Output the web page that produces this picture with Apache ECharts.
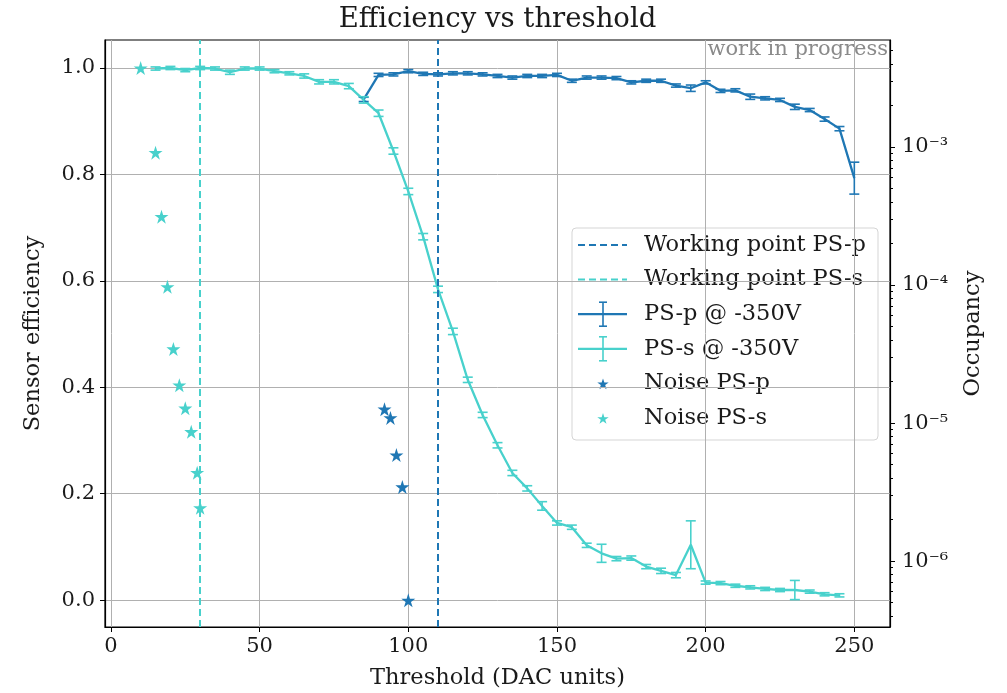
<!DOCTYPE html>
<html><head><meta charset="utf-8">
<script src="https://cdn.jsdelivr.net/npm/echarts@6/dist/echarts.min.js"></script>
<style>html,body{margin:0;padding:0;background:#fff}#c{width:1007px;height:693px}</style>
</head><body><div id="c"></div>
<script>
// ---------- data ----------
const thrPSp = [85,90,95,100,105,110,115,120,125,130,135,140,145,150,155,160,165,170,175,180,185,190,195,200,205,210,215,220,225,230,235,240,245,250];
const effPSp = [0.941,0.987,0.988,0.994,0.989,0.988,0.990,0.990,0.988,0.985,0.982,0.985,0.985,0.987,0.976,0.982,0.982,0.981,0.973,0.976,0.976,0.967,0.962,0.973,0.957,0.958,0.946,0.943,0.940,0.927,0.921,0.904,0.886,0.793];
const errPSp = [0.004,0.003,0.003,0.003,0.003,0.003,0.003,0.003,0.003,0.003,0.003,0.003,0.003,0.003,0.003,0.003,0.003,0.003,0.003,0.003,0.003,0.003,0.006,0.003,0.003,0.003,0.005,0.003,0.003,0.005,0.003,0.004,0.004,0.030];

const thrPSs = [15,20,25,30,35,40,45,50,55,60,65,70,75,80,85,90,95,100,105,110,115,120,125,130,135,140,145,150,155,160,165,170,175,180,185,190,195,200,205,210,215,220,225,230,235,240,245];
const effPSs = [0.999,1.000,0.996,1.000,0.999,0.992,0.999,0.999,0.994,0.990,0.985,0.974,0.974,0.966,0.940,0.915,0.844,0.768,0.683,0.584,0.505,0.414,0.348,0.291,0.239,0.210,0.177,0.145,0.137,0.103,0.088,0.078,0.079,0.063,0.055,0.047,0.104,0.033,0.032,0.027,0.024,0.021,0.019,0.019,0.016,0.011,0.009];
const errPSs = [0.003,0.003,0.003,0.003,0.003,0.004,0.003,0.003,0.003,0.003,0.004,0.004,0.004,0.005,0.006,0.006,0.006,0.006,0.006,0.006,0.006,0.005,0.005,0.005,0.005,0.005,0.008,0.004,0.004,0.004,0.017,0.004,0.004,0.004,0.005,0.005,0.045,0.003,0.003,0.003,0.003,0.003,0.003,0.018,0.003,0.003,0.003];

const noiseThrPSp = [92,94,96,98,100];
const noiseOccPSp = [1.26e-5,1.09e-5,5.86e-6,3.44e-6,5.2e-7];
const noiseThrPSs = [10,15,17,19,21,23,25,27,29,30];
const noiseOccPSs = [3.73e-3,9.1e-4,3.13e-4,9.7e-5,3.44e-5,1.88e-5,1.28e-5,8.65e-6,4.37e-6,2.43e-6];

const wpPSp = 110;
const wpPSs = 30;

const xTicks = [0,50,100,150,200,250];
const effTicks = [0,0.2,0.4,0.6,0.8,1.0];
const occTicks = [1e-6,1e-5,1e-4,1e-3];
const occMinorTicks = [4e-7,5e-7,6e-7,7e-7,8e-7,9e-7,
  2e-6,3e-6,4e-6,5e-6,6e-6,7e-6,8e-6,9e-6,
  2e-5,3e-5,4e-5,5e-5,6e-5,7e-5,8e-5,9e-5,
  2e-4,3e-4,4e-4,5e-4,6e-4,7e-4,8e-4,9e-4,
  2e-3,3e-3,4e-3,5e-3];

const xRange = [-2, 262];
const effRange = [-0.0505, 1.0526];
const occRange = [3.33e-7, 5.96e-3];

const legendNames = ['Working point PS-p','Working point PS-s','PS-p @ -350V','PS-s @ -350V','Noise PS-p','Noise PS-s'];

// ---------- style ----------
const C_P = '#1f77b4';
const C_S = '#48d1cc';
const FONT = 'DejaVu Serif';
const FS_TICK = 21;
const FS = 22.5;
const STAR = 'path://M0,-1L0.2245,-0.309L0.951,-0.309L0.363,0.118L0.588,0.809L0,0.382L-0.588,0.809L-0.363,0.118L-0.951,-0.309L-0.2245,-0.309Z';

const sup = {'-':'⁻','0':'⁰','1':'¹','2':'²','3':'³','4':'⁴','5':'⁵','6':'⁶','7':'⁷','8':'⁸','9':'⁹'};
function logLabel(v){
  const e = Math.round(Math.log10(v));
  return '10' + String(e).split('').map(c=>sup[c]).join('');
}

function errSeries(thr, eff, err, color){
  return {
    type:'custom', xAxisIndex:0, yAxisIndex:0, silent:true, z:4,
    data: thr.map((t,i)=>[t, eff[i]-err[i], eff[i]+err[i]]),
    encode:{x:0, y:[1,2]},
    renderItem(params, api){
      const x = api.value(0);
      const lo = api.coord([x, api.value(1)]);
      const hi = api.coord([x, api.value(2)]);
      const cw = 5;
      const st = {stroke:color, lineWidth:1.6};
      return {type:'group', children:[
        {type:'line', shape:{x1:lo[0],y1:lo[1],x2:hi[0],y2:hi[1]}, style:st},
        {type:'line', shape:{x1:lo[0]-cw,y1:lo[1],x2:lo[0]+cw,y2:lo[1]}, style:st},
        {type:'line', shape:{x1:hi[0]-cw,y1:hi[1],x2:hi[0]+cw,y2:hi[1]}, style:st}
      ]};
    }
  };
}

// ---------- legend (graphic) ----------
const LX = 572, LY = 228, LW = 306, LH = 212;
const rowY = i => 245 + i*34.6;
const hx1 = 578, hx2 = 627, hxc = 603, tx = 644;
function starPts(cx, cy, r){
  const pts=[];
  for(let k=0;k<10;k++){
    const a = -Math.PI/2 + k*Math.PI/5;
    const rr = k%2===0 ? r : r*0.382;
    pts.push([cx + rr*Math.cos(a), cy + rr*Math.sin(a)]);
  }
  return pts;
}
const legendChildren = [
  {type:'rect', shape:{x:LX,y:LY,width:LW,height:LH,r:4}, style:{fill:'rgba(255,255,255,0.8)', stroke:'#d5d5d5', lineWidth:1}},
  {type:'line', shape:{x1:hx1,y1:rowY(0),x2:hx2,y2:rowY(0)}, style:{stroke:C_P,lineWidth:2,lineDash:[7,4]}},
  {type:'line', shape:{x1:hx1,y1:rowY(1),x2:hx2,y2:rowY(1)}, style:{stroke:C_S,lineWidth:2,lineDash:[7,4]}},
];
[[2,C_P],[3,C_S]].forEach(([i,c])=>{
  const y=rowY(i), st={stroke:c,lineWidth:2.2};
  legendChildren.push({type:'line', shape:{x1:hx1,y1:y,x2:hx2,y2:y}, style:st});
  legendChildren.push({type:'line', shape:{x1:hxc,y1:y-12,x2:hxc,y2:y+12}, style:{stroke:c,lineWidth:1.6}});
  legendChildren.push({type:'line', shape:{x1:hxc-4,y1:y-12,x2:hxc+4,y2:y-12}, style:{stroke:c,lineWidth:1.6}});
  legendChildren.push({type:'line', shape:{x1:hxc-4,y1:y+12,x2:hxc+4,y2:y+12}, style:{stroke:c,lineWidth:1.6}});
});
legendChildren.push({type:'polygon', shape:{points:starPts(hxc,rowY(4)+1,6)}, style:{fill:C_P}});
legendChildren.push({type:'polygon', shape:{points:starPts(hxc,rowY(5)+1,6)}, style:{fill:C_S}});
legendNames.forEach((n,i)=>{
  legendChildren.push({type:'text', x:tx, y:rowY(i), style:{text:n, font:`${FS}px "${FONT}"`, fill:'#1a1a1a', textVerticalAlign:'middle', textAlign:'left'}});
});

// ---------- chart ----------
const chart = echarts.init(document.getElementById('c'));
const tickText = {fontFamily:FONT, fontSize:FS_TICK, color:'#1a1a1a'};
const nameText = {fontFamily:FONT, fontSize:FS, color:'#1a1a1a'};
const gridBox = {left:105, right:117, top:40, bottom:66, outerBoundsMode:'none', containLabel:false};
chart.setOption({
  animation:false,
  backgroundColor:'#fff',
  grid:[
    {...gridBox, show:true, borderColor:'#000', borderWidth:1.2},
    {...gridBox, show:false}
  ],
  xAxis:[
    {
      type:'value', gridIndex:0, min:xRange[0], max:xRange[1],
      name:'Threshold (DAC units)', nameLocation:'middle', nameGap:40,
      nameTextStyle:nameText,
      axisLine:{show:true, onZero:false, lineStyle:{color:'#000', width:1.2}},
      axisTick:{show:true, length:5, customValues:xTicks, lineStyle:{color:'#000'}},
      axisLabel:{...tickText, margin:9, customValues:xTicks},
      splitLine:{show:true, lineStyle:{color:'#b0b0b0', width:1}}
    },
    {
      type:'value', gridIndex:1, min:xRange[0], max:xRange[1], show:false
    }
  ],
  yAxis:[
    {
      type:'value', gridIndex:0, min:effRange[0], max:effRange[1], position:'left',
      name:'Sensor efficiency', nameLocation:'middle', nameGap:60, nameRotate:90,
      nameTextStyle:nameText,
      axisLine:{show:true, onZero:false, lineStyle:{color:'#000', width:1.2}},
      axisTick:{show:true, length:5, customValues:effTicks, lineStyle:{color:'#000'}},
      axisLabel:{...tickText, margin:10, customValues:effTicks, formatter:v=>v.toFixed(1)},
      splitLine:{show:true, lineStyle:{color:'#b0b0b0', width:1}}
    },
    {
      type:'log', gridIndex:0, logBase:10, min:occRange[0], max:occRange[1], position:'right',
      name:'Occupancy', nameLocation:'middle', nameGap:72, nameRotate:90,
      nameTextStyle:nameText,
      axisLine:{show:true, onZero:false, lineStyle:{color:'#000', width:1.2}},
      axisTick:{show:true, length:5, customValues:occTicks, lineStyle:{color:'#000'}},
      axisLabel:{...tickText, margin:12, customValues:occTicks, formatter:logLabel},
      splitLine:{show:false}
    },
    {
      type:'log', gridIndex:1, logBase:10, min:occRange[0], max:occRange[1], position:'right',
      axisLine:{show:false, onZero:false},
      axisTick:{show:true, length:3, customValues:occMinorTicks, lineStyle:{color:'#000'}},
      axisLabel:{show:false},
      splitLine:{show:false}
    }
  ],
  series:[
    {type:'line', name:legendNames[0], xAxisIndex:0, yAxisIndex:0, data:[], silent:true,
      markLine:{silent:true, symbol:['none','none'], label:{show:false}, animation:false,
        lineStyle:{color:C_P, width:2, type:[7,4]}, data:[{xAxis:wpPSp}]}},
    {type:'line', name:legendNames[1], xAxisIndex:0, yAxisIndex:0, data:[], silent:true,
      markLine:{silent:true, symbol:['none','none'], label:{show:false}, animation:false,
        lineStyle:{color:C_S, width:2, type:[7,4]}, data:[{xAxis:wpPSs}]}},
    {type:'line', name:legendNames[2], xAxisIndex:0, yAxisIndex:0, showSymbol:false, z:3,
      lineStyle:{color:C_P, width:2.3}, itemStyle:{color:C_P},
      data: thrPSp.map((t,i)=>[t, effPSp[i]])},
    errSeries(thrPSp, effPSp, errPSp, C_P),
    {type:'line', name:legendNames[3], xAxisIndex:0, yAxisIndex:0, showSymbol:false, z:3,
      lineStyle:{color:C_S, width:2.3}, itemStyle:{color:C_S},
      data: thrPSs.map((t,i)=>[t, effPSs[i]])},
    errSeries(thrPSs, effPSs, errPSs, C_S),
    {type:'scatter', name:legendNames[4], xAxisIndex:0, yAxisIndex:1, symbol:STAR, symbolSize:14, z:5,
      itemStyle:{color:C_P, opacity:1}, data: noiseThrPSp.map((t,i)=>[t, noiseOccPSp[i]])},
    {type:'scatter', name:legendNames[5], xAxisIndex:0, yAxisIndex:1, symbol:STAR, symbolSize:14, z:5,
      itemStyle:{color:C_S, opacity:1}, data: noiseThrPSs.map((t,i)=>[t, noiseOccPSs[i]])}
  ],
  graphic:[
    {type:'text', x:497.5, y:20, z:10, style:{text:'Efficiency vs threshold', font:`27.5px "${FONT}"`, fill:'#1a1a1a', textAlign:'center', textVerticalAlign:'middle'}},
    {type:'text', x:888, y:50, z:10, style:{text:'work in progress', font:`21px "${FONT}"`, fill:'#8a8a8a', textAlign:'right', textVerticalAlign:'middle'}},
    {type:'group', z:20, children:legendChildren}
  ]
});
</script></body></html>
